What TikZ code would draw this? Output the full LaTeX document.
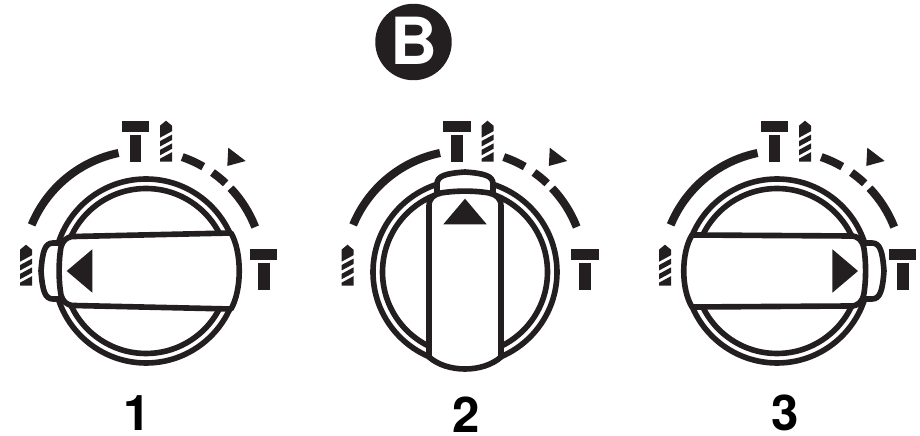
\documentclass[tikz,border=0pt]{standalone}
\usepackage{fontspec}
\setmainfont{TeX Gyre Heros}
\usetikzlibrary{positioning}
\definecolor{dialInk}{HTML}{231F20}
\tikzset{
  ringline/.style={draw=dialInk, line width=3.2pt},
  knobline/.style={draw=dialInk, line width=3.2pt, fill=white, line join=round},
  scalearc/.style={draw=dialInk, line width=4.6pt},
  inkfill/.style={fill=dialInk, draw=none},
  badge/.style={circle, fill=dialInk, text=white, inner sep=0pt, minimum size=1.53cm, font=\fontsize{37}{37}\selectfont\bfseries},
  dialnum/.style={text=black, inner sep=0pt, font=\fontsize{28}{28}\selectfont\bfseries},
  tmark/.pic={
    \fill[inkfill] (-13.8,0) rectangle (13.8,-11);
    \fill[inkfill] (-5.9,-14.5) rectangle (5.9,-41.5);
  },
  hatchmark/.pic={
    \fill[inkfill] (0,0) -- (12,0) -- (12,9.5) -- (0,3) -- cycle;
    \fill[inkfill] (0,6.4) -- (12,12.9) -- (12,18.3) -- (0,11.8) -- cycle;
    \fill[inkfill] (0,15.2) -- (12,21.7) -- (12,27.1) -- (0,20.6) -- cycle;
    \fill[inkfill] (0,24) -- (12,30.5) -- (12,36) -- (6,41) -- (0,36) -- cycle;
  },
}

\begin{document}
\begin{tikzpicture}[x=0.02cm, y=0.02cm]
    \useasboundingbox (0,0) rectangle (920,436);
    \node[badge] (title) at (413.5,394) {\raisebox{1pt}{B}};
    \foreach \sx/\kx/\ky/\rot/\tip/\tabtop/\wa/\wb/\sag/\lx/\ly/\num in {
        143/146/165/90/88/105/34.5/38/11/137.5/23/1,
        464.5/465/164/0/82/100/36/36/16/466/21/2,
        782/777/165/-90/89.7/107/35/36/11/785/23/3} {
      % scale round the dial
      \begin{scope}[shift={(\sx,165)}]
        \foreach \a/\b in {157.5/101.7, 71/60, 54.8/46.7, 43.4/21.4}
          \draw[scalearc] (\a:120.5) arc[start angle=\a, end angle=\b, radius=120.5];
        \pic at (-7.6,150.3) {tmark};
        \pic at (120.6,22) {tmark};
        \pic at (17,109.3) {hatchmark};
        \pic at (-123,-14.7) {hatchmark};
        \fill[inkfill] (85.3,123.3) -- (102.7,110) -- (84.3,105) -- cycle;
      \end{scope}
      % knob, drawn pointing up and then turned
      \begin{scope}[shift={(\kx,\ky)}, rotate=\rot]
        \draw[ringline] (0,0) circle[radius=92];
        \draw[ringline] (0,0) circle[radius=82.5];
        \draw[knobline] (-28,78) -- (-28,\tabtop-12) .. controls (-28,\tabtop-4) and (-20,\tabtop-1.5) .. (0,\tabtop)
          .. controls (20,\tabtop-1.5) and (28,\tabtop-4) .. (28,\tabtop-12) -- (28,78);
        \draw[knobline] ({-\wb},-85) -- ({-\wa},\tip-16) .. controls ({-\wa},\tip-8) and ({-\wa+5},\tip-4.5) .. (-24,\tip-3)
          .. controls (-10,\tip-0.5) and (10,\tip-0.5) .. (24,\tip-3)
          .. controls ({\wa-5},\tip-4.5) and (\wa,\tip-8) .. (\wa,\tip-16) -- (\wb,-85)
          .. controls ({\wb/2},-85-\sag) and ({-\wb/2},-85-\sag) .. ({-\wb},-85) -- cycle;
        \fill[inkfill] (0,\tip-8.7) -- (-21.7,\tip-34.3) -- (21.7,\tip-34.3) -- cycle;
      \end{scope}
      \node[dialnum] (num\num) at (\lx,\ly) {\num};
    }
  \end{tikzpicture}
\end{document}
